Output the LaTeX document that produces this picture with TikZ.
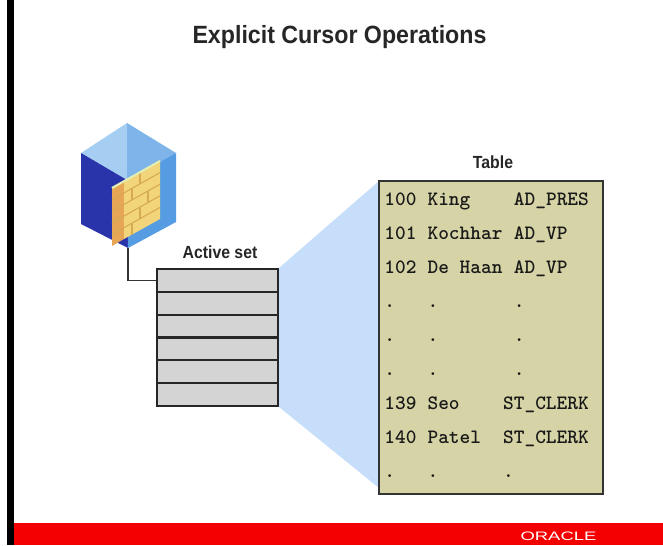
\documentclass[tikz,border=0pt]{standalone}
\usepackage{fontspec}
\setmainfont{Liberation Sans}
\usetikzlibrary{calc}

\definecolor{bleuclair}{RGB}{198,222,249}
\definecolor{kaki}{RGB}{214,212,166}
\definecolor{grisclair}{RGB}{212,212,212}
\definecolor{rouge}{RGB}{244,0,0}
\definecolor{bleuhaut}{RGB}{166,206,242}
\definecolor{bleuhautb}{RGB}{126,180,234}
\definecolor{bleufonce}{RGB}{42,52,170}
\definecolor{bleumoyen}{RGB}{86,156,226}
\definecolor{jaune}{RGB}{242,212,122}
\definecolor{brique}{RGB}{214,170,80}
\definecolor{orangee}{RGB}{230,166,86}
\definecolor{reflet}{RGB}{228,238,176}

\begin{document}
\begin{tikzpicture}[x=0.02cm, y=-0.02cm,
	ligne/.style={draw=black!85, fill=grisclair, line width=\epais, minimum width=121*0.02cm, minimum height=\pasligne*0.02cm, inner sep=0pt},
	code/.style={anchor=base west, inner sep=0pt, font=\ttfamily\bfseries\addfontfeature{FakeBold=1.5}\fontsize{11.6}{13}\selectfont, text=black!90},
	etiquette/.style={anchor=base, inner sep=0pt, font=\bfseries\fontsize{10}{12}\selectfont, text=black!85},
	titre/.style={anchor=base, inner sep=0pt, font=\bfseries\fontsize{14.2}{16}\selectfont, text=black!85}]

%%%%%%%%%%%%%%%%%%%%%%
%%%	 Def géométrie  %%%
%%%%%%%%%%%%%%%%%%%%%%

\def \pasligne{22.83}
\def \pastable{34}
\def \colonne{10.8}
\def \debut{384}

%%%%%%%%%%%%%%%%%%%%%%
%%%	   Def style    %%%
%%%%%%%%%%%%%%%%%%%%%%

\def \epais{1.15pt}
\def \fin{0.8pt}

\useasboundingbox (0,0) rectangle (663,545);

%%%%%%%%%%%%%%%%%%%%%%
%%%	    Cadre       %%%
%%%%%%%%%%%%%%%%%%%%%%

% Barre noire à gauche et bandeau rouge en bas
\fill[black] (7,0) rectangle (14,545);
\fill[rouge] (14,523) rectangle (663,545);
\node[anchor=base, inner sep=0pt, text=white, font=\fontsize{7}{8}\selectfont] (oracle) at (558.5,540) {\scalebox{1.5}[1]{ORACLE}};

% Titre
\node[titre] (entete) at (339.5,43) {\scalebox{0.93}[1]{Explicit Cursor Operations}};

%%%%%%%%%%%%%%%%%%%%%%
%%%	    Cube        %%%
%%%%%%%%%%%%%%%%%%%%%%

\fill[bleuhaut] (127,123) -- (81,153) -- (127,180) -- cycle;
\fill[bleuhautb] (127,123) -- (176,153) -- (127,180) -- cycle;
\fill[bleufonce] (81,153) -- (127,180) -- (128,248) -- (81,224) -- cycle;
\fill[bleumoyen] (127,180) -- (176,153) -- (176,222) -- (128,248) -- cycle;
% Tiroir jaune
\fill[orangee] (112,188) -- (124,181) -- (124,239) -- (112,246) -- cycle;
\fill[jaune] (124,181) -- (160,161) -- (160,219) -- (124,239) -- cycle;
\foreach \k in {1,...,4}
	\draw[brique, line width=0.6pt] (112,188+\k*11.6) -- (160,161+\k*11.6);
\foreach \k/\xj in {0/140,1/132,2/148,3/140,4/132}
	\draw[brique, line width=0.6pt] (\xj,{188-(\xj-112)*0.5625+\k*11.6}) -- +(0,11.6);
\draw[reflet, line width=1.2pt] (112,188) -- (160,161);
\coordinate (cubebas) at (128,248);

%%%%%%%%%%%%%%%%%%%%%%
%%%	  Active set    %%%
%%%%%%%%%%%%%%%%%%%%%%

\foreach \i in {1,...,6}
	\node[ligne] (ligne\i) at (217.5,{269+\pasligne*(\i-0.5)}) {};
\node[etiquette] (actif) at (220,258) {\scalebox{0.9}[1]{Active set}};

% Liaison entre le cube et la première ligne
\draw[line width=\fin, black!80] (cubebas) |- (ligne1.west);

%%%%%%%%%%%%%%%%%%%%%%
%%%	    Table       %%%
%%%%%%%%%%%%%%%%%%%%%%

% Faisceau bleu entre l'active set et la table
\coordinate (coinhaut) at (379,181);
\coordinate (coinbas) at (379,488);
\fill[bleuclair] (ligne1.north east) -- (coinhaut) -- (coinbas) -- (ligne6.south east) -- cycle;

\node[draw=black!80, fill=kaki, line width=\epais, minimum width=224*0.02cm, minimum height=313*0.02cm, inner sep=0pt] (table) at (491,337.5) {};
\node[etiquette] (nomtable) at (493,168) {\scalebox{0.9}[1]{Table}};

% Lignes de la table : numéro, nom, poste et colonne du poste
\foreach \num/\nom/\poste/\col [count=\i from 0] in {100/King/AD\_PRES/12, 101/Kochhar/AD\_VP/12, 102/De Haan/AD\_VP/12, ./././12, ./././12, ./././12, 139/Seo/ST\_CLERK/11, 140/Patel/ST\_CLERK/11, ./././11}
{
	\node[code] (num\i) at (\debut,{205+\pastable*\i}) {\num};
	\node[code] (nom\i) at (\debut+4*\colonne,{205+\pastable*\i}) {\nom};
	\node[code] (poste\i) at (\debut+\col*\colonne,{205+\pastable*\i}) {\poste};
}

\end{tikzpicture}
\end{document}
